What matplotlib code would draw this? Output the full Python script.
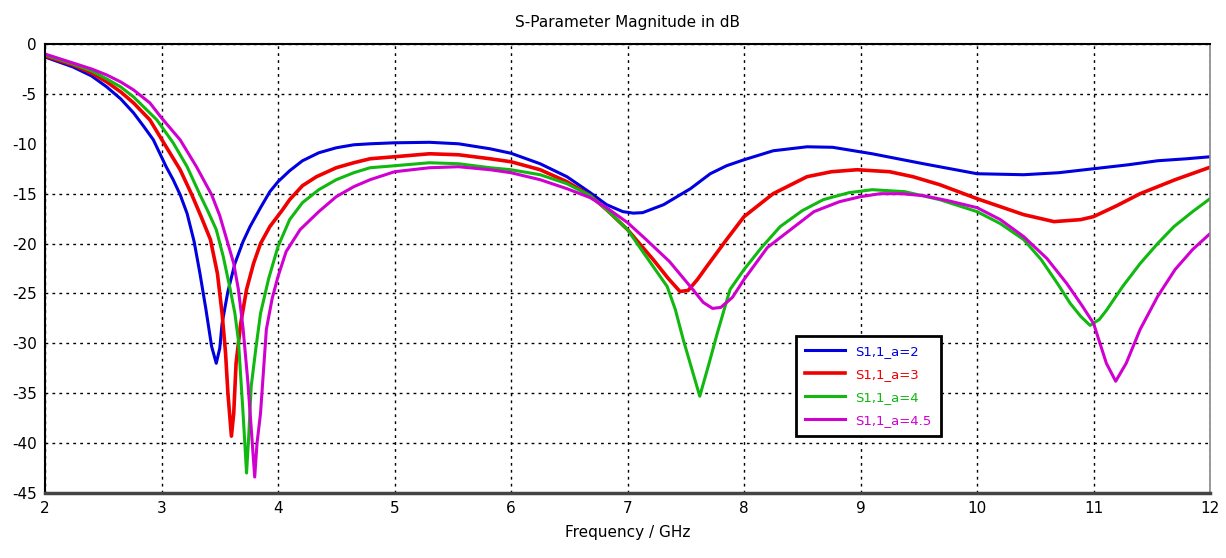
import matplotlib
matplotlib.use("Agg")
import matplotlib.pyplot as plt

plt.rcParams['font.family'] = ['DejaVu Sans']

title = "S-Parameter Magnitude in dB"
xlabel = "Frequency / GHz"
labels = ["S1,1_a=2", "S1,1_a=3", "S1,1_a=4", "S1,1_a=4.5"]
colors = ["#0000e0", "#f00000", "#10b810", "#d000d0"]
xticks = [2, 3, 4, 5, 6, 7, 8, 9, 10, 11, 12]
yticks = [0, -5, -10, -15, -20, -25, -30, -35, -40, -45]

f_a2 = [2.0, 2.24, 2.4, 2.53, 2.65, 2.76, 2.85, 2.93, 3.04, 3.1, 3.16, 3.22, 3.28, 3.33,
        3.38, 3.43, 3.47, 3.5, 3.52, 3.57, 3.63, 3.7, 3.76, 3.85, 3.93, 4.0, 4.1, 4.21,
        4.35, 4.5, 4.65, 4.79, 5.0, 5.3, 5.55, 5.82, 6.0, 6.25, 6.48, 6.68, 6.82, 6.96,
        7.05, 7.13, 7.31, 7.54, 7.71, 7.85, 8.0, 8.25, 8.54, 8.76, 9.1, 9.54, 10.0, 10.4,
        10.7, 11.0, 11.3, 11.55, 11.8, 12.0]
s_a2 = [-1.3, -2.3, -3.2, -4.3, -5.5, -6.9, -8.3, -9.6, -12.3, -13.6, -15.1, -17.0,
        -19.8, -23.0, -26.5, -30.3, -32.0, -30.5, -28.0, -24.8, -22.0, -19.8, -18.3,
        -16.4, -14.8, -13.8, -12.7, -11.7, -10.9, -10.4, -10.1, -10.0, -9.9, -9.85,
        -10.0, -10.5, -10.95, -12.0, -13.3, -14.9, -16.1, -16.8, -16.95, -16.9, -16.1,
        -14.5, -13.0, -12.2, -11.6, -10.7, -10.3, -10.35, -11.0, -12.0, -13.0, -13.1,
        -12.9, -12.5, -12.1, -11.7, -11.5, -11.3]

f_a3 = [2.0, 2.24, 2.4, 2.53, 2.65, 2.76, 2.9, 3.04, 3.16, 3.26, 3.34, 3.42, 3.48,
        3.52, 3.55, 3.57, 3.6, 3.62, 3.64, 3.68, 3.73, 3.79, 3.85, 3.93, 4.04, 4.1, 4.21,
        4.33, 4.5, 4.65, 4.79, 5.0, 5.3, 5.55, 5.82, 6.0, 6.25, 6.48, 6.68, 6.82, 7.0,
        7.22, 7.35, 7.45, 7.52, 7.6, 7.68, 7.85, 8.0, 8.25, 8.54, 8.75, 8.97, 9.25, 9.45,
        9.68, 10.0, 10.2, 10.4, 10.66, 10.89, 11.0, 11.2, 11.4, 11.7, 12.0]
s_a3 = [-1.2, -2.1, -2.9, -3.8, -4.8, -5.9, -7.6, -10.3, -12.6, -15.1, -17.3, -19.6,
        -23.0, -27.0, -31.0, -35.0, -39.3, -37.0, -32.0, -28.0, -24.6, -22.0, -20.0,
        -18.3, -16.6, -15.6, -14.2, -13.3, -12.4, -11.9, -11.5, -11.3, -11.0, -11.1,
        -11.5, -11.8, -12.6, -13.8, -15.2, -16.6, -18.6, -21.6, -23.5, -24.8, -24.7,
        -23.6, -22.3, -19.6, -17.3, -15.0, -13.3, -12.8, -12.6, -12.8, -13.3, -14.1,
        -15.5, -16.3, -17.1, -17.8, -17.6, -17.3, -16.2, -15.0, -13.6, -12.35]

f_a4 = [2.0, 2.24, 2.4, 2.53, 2.65, 2.76, 2.96, 3.1, 3.22, 3.33, 3.4, 3.47, 3.53, 3.59,
        3.63, 3.66, 3.7, 3.73, 3.75, 3.77, 3.81, 3.85, 3.92, 4.0, 4.1, 4.21, 4.35, 4.5,
        4.65, 4.79, 5.0, 5.3, 5.55, 5.82, 6.0, 6.25, 6.48, 6.68, 6.82, 7.0, 7.13, 7.25,
        7.34, 7.41, 7.48, 7.62, 7.7, 7.77, 7.88, 8.0, 8.15, 8.31, 8.5, 8.68, 8.9, 9.1,
        9.38, 9.68, 10.0, 10.2, 10.4, 10.55, 10.69, 10.8, 10.89, 10.97, 11.05, 11.11,
        11.25, 11.4, 11.55, 11.69, 11.85, 12.0]
s_a4 = [-1.1, -2.0, -2.7, -3.5, -4.3, -5.3, -7.6, -9.9, -12.3, -15.1, -16.8, -18.6,
        -21.3, -24.6, -27.0, -29.7, -37.0, -43.0, -39.0, -34.3, -30.5, -27.0, -23.5,
        -20.3, -17.6, -15.9, -14.6, -13.6, -12.9, -12.4, -12.2, -11.9, -12.0, -12.4,
        -12.6, -13.1, -14.0, -15.2, -16.6, -18.6, -20.8, -22.8, -24.3, -26.6, -29.7,
        -35.3, -32.0, -29.0, -24.6, -22.6, -20.4, -18.3, -16.7, -15.6, -14.9, -14.6,
        -14.8, -15.6, -16.8, -18.0, -19.6, -21.6, -24.0, -26.0, -27.3, -28.2, -27.6,
        -26.7, -24.3, -22.0, -20.0, -18.3, -16.8, -15.5]

f_a45 = [2.0, 2.24, 2.4, 2.53, 2.65, 2.76, 2.9, 3.0, 3.16, 3.3, 3.43, 3.5, 3.56, 3.62,
         3.66, 3.7, 3.74, 3.77, 3.8, 3.82, 3.85, 3.9, 3.95, 4.0, 4.07, 4.19, 4.35, 4.5,
         4.65, 4.79, 5.0, 5.3, 5.55, 5.82, 6.0, 6.25, 6.48, 6.68, 6.82, 7.0, 7.16, 7.36,
         7.56, 7.65, 7.73, 7.8, 7.9, 8.0, 8.2, 8.4, 8.6, 8.82, 9.0, 9.17, 9.35, 9.54,
         9.75, 10.0, 10.2, 10.4, 10.6, 10.77, 10.9, 11.0, 11.11, 11.19, 11.28, 11.4,
         11.55, 11.7, 11.85, 12.0]
s_a45 = [-1.0, -1.9, -2.5, -3.1, -3.8, -4.6, -5.9, -7.4, -9.6, -12.3, -15.1, -17.2,
         -19.6, -22.0, -24.6, -28.5, -33.7, -38.5, -43.4, -40.0, -37.0, -28.6, -25.5,
         -23.3, -20.8, -18.6, -16.8, -15.3, -14.3, -13.6, -12.8, -12.4, -12.3, -12.6,
         -12.9, -13.6, -14.5, -15.4, -16.4, -17.9, -19.6, -21.8, -24.6, -25.9, -26.5,
         -26.4, -25.4, -23.6, -20.4, -18.6, -16.8, -15.8, -15.3, -15.0, -15.0, -15.2,
         -15.7, -16.4, -17.6, -19.3, -21.5, -24.0, -26.2, -28.0, -32.0, -33.8, -32.0,
         -28.6, -25.3, -22.6, -20.6, -19.0]

series = [(f_a2, s_a2), (f_a3, s_a3), (f_a4, s_a4), (f_a45, s_a45)]
widths = [2.2, 2.6, 2.2, 2.2]

fig = plt.figure(figsize=(12.26, 5.58), dpi=100)
ax = fig.add_axes([0.0367, 0.1165, 0.9503, 0.8046])

for (f, s), lab, c, lw in zip(series, labels, colors, widths):
    ax.plot(f, s, color=c, lw=lw, label=lab, solid_joinstyle="round")

ax.set_xlim(2, 12)
ax.set_ylim(-45, 0)
ax.set_xticks(xticks)
ax.set_yticks(yticks)
ax.set_xticklabels([str(t) for t in xticks])
ax.set_yticklabels([str(t) for t in yticks])
ax.tick_params(length=0, labelsize=11, pad=6)
ax.grid(True, color="black", linestyle=(0, (2, 3)), linewidth=1.0)
# the -10 dB grid line is not drawn in the reference
for t, gl in zip(yticks, ax.yaxis.get_gridlines()):
    if t == -10:
        gl.set_visible(False)

for side in ["top", "left"]:
    ax.spines[side].set_color("black")
    ax.spines[side].set_linewidth(1.5)
ax.spines["bottom"].set_color("#444444")
ax.spines["bottom"].set_linewidth(2.5)
ax.spines["right"].set_color("#888888")
ax.spines["right"].set_linewidth(1.2)

ax.set_title(title, fontsize=11, pad=12)
ax.set_xlabel(xlabel, fontsize=11, labelpad=6)

leg = ax.legend(loc="upper left", bbox_to_anchor=(0.639, 0.365), fontsize=9.5,
                frameon=True, fancybox=False, edgecolor="black", framealpha=1,
                handlelength=3.0, borderpad=0.7, labelspacing=0.75)
leg.get_frame().set_linewidth(2.0)
for txt, c in zip(leg.get_texts(), colors):
    txt.set_color(c)

fig.savefig("out.png", dpi=100)
